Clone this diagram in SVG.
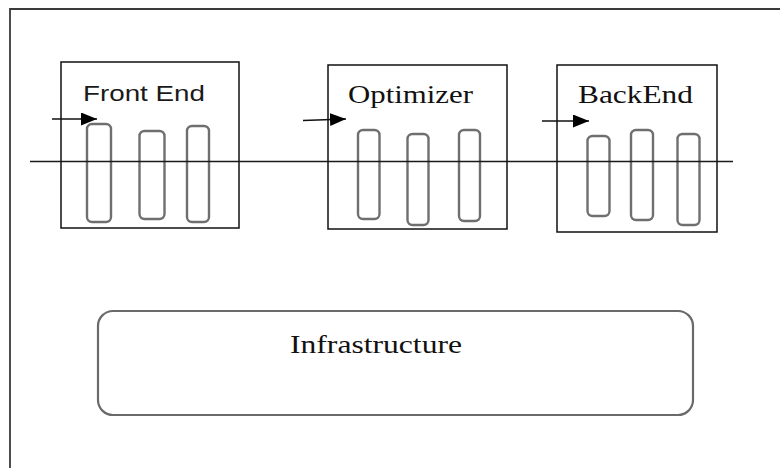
<svg xmlns="http://www.w3.org/2000/svg" width="780" height="468" viewBox="0 0 780 468">
  <style>
    .frame { fill: none; stroke: #3a3a3a; stroke-width: 1.8; }
    .stage { fill: #ffffff; stroke: #111111; stroke-width: 1.5; }
    .pass { fill: none; stroke: #6f6f6f; stroke-width: 2.4; }
    .infra { fill: #ffffff; stroke: #6a6a6a; stroke-width: 2.2; }
    .flow { fill: none; stroke: #1a1a1a; stroke-width: 1.6; }
    .entry { fill: none; stroke: #111111; stroke-width: 1.5; }
    .sans { font-family: "Liberation Sans", "Open Sans", sans-serif; font-size: 22px; fill: #1a1a1a; }
    .serif { font-family: "Liberation Serif", "DejaVu Serif", serif; font-size: 26px; fill: #111111; }
  </style>
  <defs>
    <marker id="head" markerUnits="userSpaceOnUse" markerWidth="17" markerHeight="14" refX="16" refY="6.5" orient="auto">
      <path d="M0,0 L16,6.5 L0,13 z" fill="#000000"/>
    </marker>
  </defs>

  <rect width="780" height="468" fill="#ffffff"/>

  <!-- outer frame, open on the right and bottom -->
  <path class="frame" d="M10,468 L10,9 L780,9"/>

  <g id="front-end">
    <rect class="stage" x="61" y="62" width="178" height="166"/>
    <text class="sans" x="83" y="101" textLength="122" lengthAdjust="spacingAndGlyphs">Front End</text>
    <rect class="pass" x="87" y="124" width="24" height="98" rx="5"/>
    <rect class="pass" x="139.5" y="131" width="25" height="88" rx="5"/>
    <rect class="pass" x="187" y="126" width="22" height="96" rx="5"/>
  </g>

  <g id="optimizer">
    <rect class="stage" x="328" y="65" width="179" height="164"/>
    <text class="serif" x="348" y="103" textLength="125" lengthAdjust="spacingAndGlyphs">Optimizer</text>
    <rect class="pass" x="358" y="130" width="21.5" height="89" rx="5"/>
    <rect class="pass" x="407.5" y="134" width="21" height="91" rx="5"/>
    <rect class="pass" x="459" y="130" width="21" height="91" rx="5"/>
  </g>

  <g id="backend">
    <rect class="stage" x="557" y="65" width="160" height="167"/>
    <text class="serif" x="578" y="103" textLength="115" lengthAdjust="spacingAndGlyphs">BackEnd</text>
    <rect class="pass" x="587.5" y="136" width="22" height="80" rx="5"/>
    <rect class="pass" x="631" y="130" width="22" height="90" rx="5"/>
    <rect class="pass" x="677.5" y="134" width="22" height="91" rx="5"/>
  </g>

  <g id="infrastructure">
    <rect class="infra" x="98" y="311" width="595" height="104" rx="15"/>
    <text class="serif" x="290" y="353" textLength="172" lengthAdjust="spacingAndGlyphs">Infrastructure</text>
  </g>

  <g id="connectors">
    <line class="flow" x1="30" y1="161.5" x2="733" y2="161.5"/>
    <line class="entry" x1="52" y1="119" x2="97" y2="119" marker-end="url(#head)"/>
    <line class="entry" x1="303" y1="120.5" x2="346" y2="119" marker-end="url(#head)"/>
    <line class="entry" x1="542" y1="121" x2="589" y2="121" marker-end="url(#head)"/>
  </g>
</svg>
